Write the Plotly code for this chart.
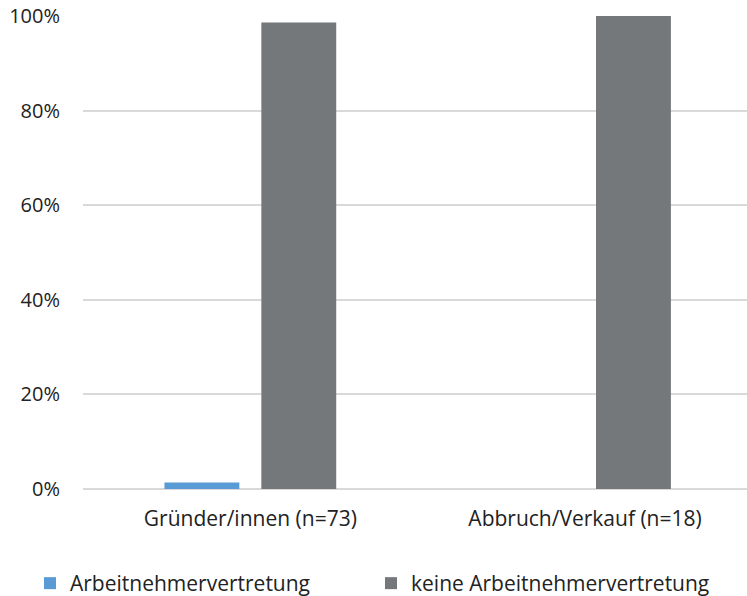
import plotly.graph_objects as go

categories = ["Gründer/innen (n=73)", "Abbruch/Verkauf (n=18)"]
series_names = ["Arbeitnehmervertretung", "keine Arbeitnehmervertretung"]
arbeitnehmer = [0.0137, 0.0]
keine = [0.9863, 1.0]
y_ticks = [0, 0.2, 0.4, 0.6, 0.8, 1.0]
y_tick_labels = ["0%", "20%", "40%", "60%", "80%", "100%"]
colors = ["#5B9BD5", "#75787B"]

FONT = "Open Sans"
FS = 20
FS_X = 21
W, H = 747, 596
L, T, B = 83, 16, 107
plot_w = W - L

fig = go.Figure()
for name, vals, col in zip(series_names, [arbeitnehmer, keine], colors):
    fig.add_trace(go.Bar(x=categories, y=vals, name=name, marker=dict(color=col, line=dict(width=0))))

fig.update_layout(
    width=W, height=H,
    margin=dict(l=L, r=0, t=T, b=B, autoexpand=False),
    plot_bgcolor="white", paper_bgcolor="white",
    barmode="group", bargap=0.421, bargroupgap=0.227,
    font=dict(family=FONT, size=FS, color="#222222"),
    showlegend=True,
    legend=dict(
        orientation="h", x=(30 - L) / plot_w, xanchor="left",
        y=-(563 - 489) / 473, yanchor="top",
        entrywidth=296, entrywidthmode="pixels",
        font=dict(family=FONT, size=FS_X, color="#222222"),
        itemclick=False,
    ),
)
fig.update_xaxes(
    type="category", range=[-0.5, 1.484], showgrid=False, ticks="",
    showline=False, zeroline=False, ticklabelstandoff=15,
    tickfont=dict(family=FONT, size=FS_X, color="#222222"),
)
fig.update_yaxes(
    range=[0, 1.0], tickvals=y_ticks, ticktext=y_tick_labels,
    showgrid=True, gridcolor="#D9D9D9", gridwidth=1.5,
    zeroline=True, zerolinecolor="#D9D9D9", zerolinewidth=2,
    ticks="", showline=False, ticklabelstandoff=22,
    tickfont=dict(family=FONT, size=FS, color="#222222"),
)
fig.write_html("out.html")
